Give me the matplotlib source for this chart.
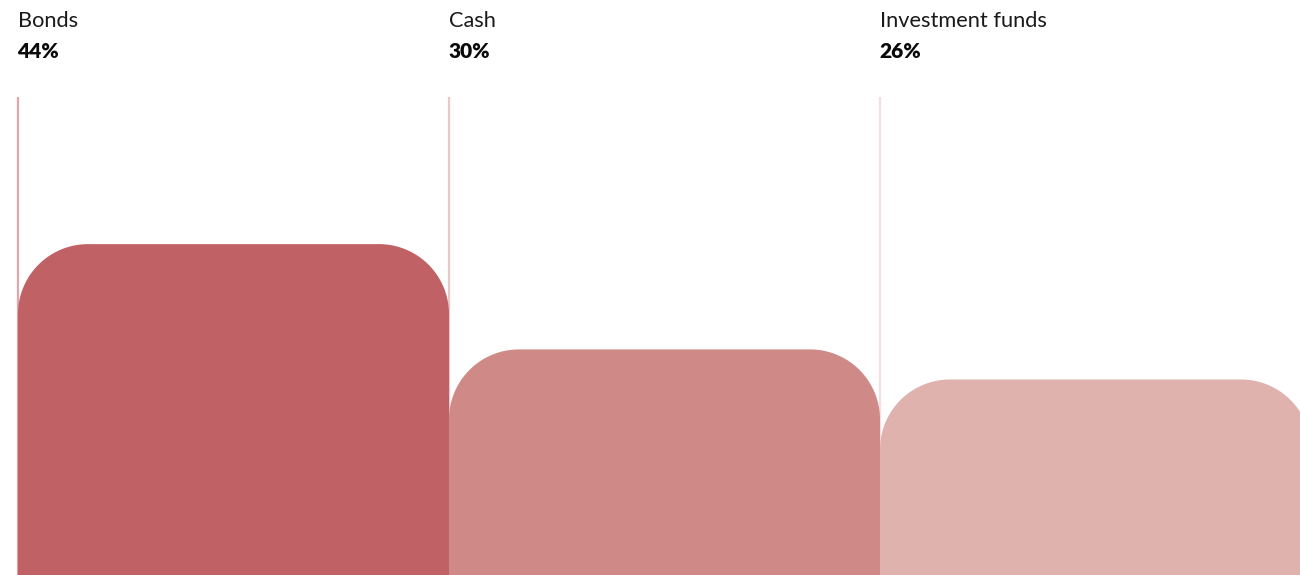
import numpy as np
import matplotlib
matplotlib.use("Agg")
import matplotlib.pyplot as plt
from matplotlib.patches import Polygon

categories = ["Bonds", "Cash", "Investment funds"]
values = [44, 30, 26]
value_labels = ["44%", "30%", "26%"]
bar_colors = ["#c06166", "#cf8a87", "#dfb2ae"]
line_colors = ["#e3a5a9", "#edc7c7", "#f4dddd"]

W, H, DPI = 1300, 575, 100
fig = plt.figure(figsize=(W / DPI, H / DPI), dpi=DPI)
ax = fig.add_axes([0, 0, 1, 1])
ax.set_axis_off()

left_px = 18
bar_px = 431
px_per_unit_y = 7.52
ax.set_xlim(-left_px / bar_px, (W - left_px) / bar_px)
ax.set_ylim(0, H / px_per_unit_y)

line_top = (H - 97) / px_per_unit_y
radius_px = 70
rx = radius_px / bar_px
ry = radius_px / px_per_unit_y

def rounded_top_bar(x0, width, height):
    x1 = x0 + width
    t = np.linspace(0, np.pi / 2, 40)
    lc = [(x0 + rx - rx * np.cos(a), height - ry + ry * np.sin(a)) for a in t]
    rc = [(x1 - rx + rx * np.sin(a), height - ry + ry * np.cos(a)) for a in t]
    return [(x0, 0)] + lc + rc + [(x1, 0)]

for i, (cat, v, lab, bc, lc) in enumerate(zip(categories, values, value_labels, bar_colors, line_colors)):
    ax.plot([i, i], [0, line_top], color=lc, lw=1.6, zorder=1, solid_capstyle="butt")
    ax.add_patch(Polygon(rounded_top_bar(i, 1, v), closed=True, facecolor=bc,
                         edgecolor="none", zorder=2))
    ax.text(i, (H - 27) / px_per_unit_y, cat, fontsize=15.7, family="Lato",
            color="#1a1a1a", ha="left", va="baseline")
    ax.text(i - 1 / bar_px, (H - 58.5) / px_per_unit_y, lab, fontsize=15, family="Lato",
            fontweight="heavy", color="#0a0a0a", ha="left", va="baseline")

fig.savefig("out.png", dpi=DPI, facecolor="white")
